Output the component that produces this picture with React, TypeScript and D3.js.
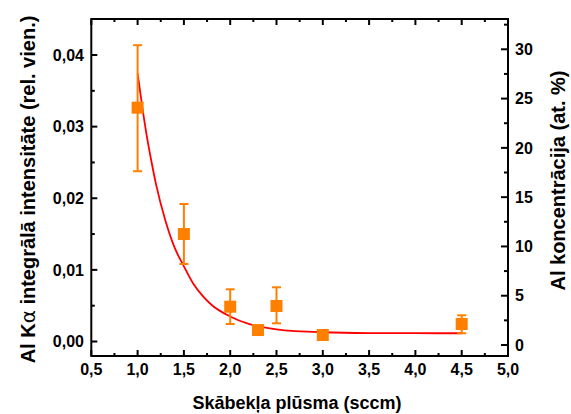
import React from "react";
import * as d3 from "d3";

// Measured points: oxygen flow (sccm), Al Kα integral intensity, error bars
const flow = [1.0, 1.5, 2.0, 2.3, 2.5, 3.0, 4.5];
const intensity = [0.03265, 0.01501, 0.00486, 0.0016, 0.00496, 0.00091, 0.00244];
const errLow = [0.02377, 0.01082, 0.00244, 0.0012, 0.00254, 0.0005, 0.00115];
const errHigh = [0.04137, 0.0192, 0.00729, 0.002, 0.00757, 0.0013, 0.00366];

// Fitted decay curve
const fitX = [1.0, 1.05, 1.1, 1.15, 1.2, 1.3, 1.4, 1.5, 1.6, 1.7, 1.8, 2.0, 2.2, 2.5, 3.0, 3.5, 4.0, 4.5];
const fitY = [0.03745, 0.0328, 0.02865, 0.0251, 0.0219, 0.0169, 0.0131, 0.0105, 0.0081, 0.0064, 0.0051, 0.0035, 0.00245, 0.0017, 0.00129, 0.00118, 0.00116, 0.00115];

const xTicks = [0.5, 1.0, 1.5, 2.0, 2.5, 3.0, 3.5, 4.0, 4.5, 5.0];
const yLeftTicks = [0, 0.01, 0.02, 0.03, 0.04];
const yRightTicks = [0, 5, 10, 15, 20, 25, 30];

const W = 571;
const H = 414;
const L = 91.3, R = 508, T = 19, B = 356;

const fmt = (v: number, d: number) => v.toFixed(d).replace(".", ",");

export default function App() {
  const x = d3.scaleLinear().domain([0.5, 5.0]).range([L, R]);
  const yL = d3.scaleLinear().domain([0, 0.04]).range([341.5, 55]);
  const yR = d3.scaleLinear().domain([0, 30]).range([345, 49.3]);

  const xMinor = d3.range(0.75, 5.0, 0.5);
  const yLMinor = d3.range(0.005, 0.045, 0.01);
  const yRMinor = d3.range(2.5, 33, 5);

  const line = d3
    .line<number>()
    .x((_, i) => x(fitX[i]))
    .y((d) => yL(d))
    .curve(d3.curveMonotoneX);

  const orange = "#FF8000";
  const font = "'Liberation Sans', Arial, sans-serif";
  const sq = 12;

  return (
    <svg
      width={W}
      height={H}
      style={{ position: "absolute", left: 0, top: 0, background: "#fff" }}
      fontFamily={font}
      fontWeight="bold"
    >
      <rect x={0} y={0} width={W} height={H} fill="#fff" />

      {/* fit curve */}
      <path d={line(fitY) || ""} fill="none" stroke="#FF0000" strokeWidth={1.8} />

      {/* error bars */}
      {flow.map((f, i) => (
        <g key={"e" + i} stroke={orange} strokeWidth={2}>
          <line x1={x(f)} x2={x(f)} y1={yL(errLow[i])} y2={yL(errHigh[i])} />
          <line x1={x(f) - 4.5} x2={x(f) + 4.5} y1={yL(errLow[i])} y2={yL(errLow[i])} />
          <line x1={x(f) - 4.5} x2={x(f) + 4.5} y1={yL(errHigh[i])} y2={yL(errHigh[i])} />
        </g>
      ))}
      {/* markers */}
      {flow.map((f, i) => (
        <rect
          key={"m" + i}
          x={x(f) - sq / 2}
          y={yL(intensity[i]) - sq / 2}
          width={sq}
          height={sq}
          fill={orange}
        />
      ))}

      {/* frame */}
      <rect x={L} y={T} width={R - L} height={B - T} fill="none" stroke="#000" strokeWidth={2} />

      {/* x ticks bottom & top */}
      {xTicks.map((t) => (
        <g key={"xt" + t} stroke="#000" strokeWidth={2}>
          <line x1={x(t)} x2={x(t)} y1={B} y2={B - 6} />
          <line x1={x(t)} x2={x(t)} y1={T} y2={T + 6} />
        </g>
      ))}
      {xMinor.map((t) => (
        <g key={"xm" + t} stroke="#000" strokeWidth={2}>
          <line x1={x(t)} x2={x(t)} y1={B} y2={B - 3} />
          <line x1={x(t)} x2={x(t)} y1={T} y2={T + 3} />
        </g>
      ))}
      {xTicks.map((t) => (
        <text key={"xl" + t} x={x(t)} y={375} textAnchor="middle" fontSize={16} fill="#000">
          {fmt(t, 1)}
        </text>
      ))}

      {/* left y ticks */}
      {yLeftTicks.map((t) => (
        <g key={"yl" + t}>
          <line x1={L} x2={L + 6} y1={yL(t)} y2={yL(t)} stroke="#000" strokeWidth={2} />
          <text x={84} y={yL(t)} dy="0.36em" textAnchor="end" fontSize={16} fill="#000">
            {fmt(t, 2)}
          </text>
        </g>
      ))}
      {yLMinor.map((t) => (
        <line key={"ylm" + t} x1={L} x2={L + 3.5} y1={yL(t)} y2={yL(t)} stroke="#000" strokeWidth={2} />
      ))}

      {/* right y ticks */}
      {yRightTicks.map((t) => (
        <g key={"yr" + t}>
          <line x1={R} x2={R - 7} y1={yR(t)} y2={yR(t)} stroke="#000" strokeWidth={2} />
          <text x={515} y={yR(t)} dy="0.36em" textAnchor="start" fontSize={16} fill="#000">
            {t}
          </text>
        </g>
      ))}
      {yRMinor.map((t) => (
        <line key={"yrm" + t} x1={R} x2={R - 4} y1={yR(t)} y2={yR(t)} stroke="#000" strokeWidth={2} />
      ))}

      {/* axis titles */}
      <text x={297} y={409} textAnchor="middle" fontSize={18} fill="#000">
        Skābekļa plūsma (sccm)
      </text>
      <text
        transform={`translate(35,189.5) rotate(-90)`}
        textAnchor="middle"
        fontSize={20}
        fill="#000"
      >
        Al K<tspan fontWeight="normal" fontFamily="'DejaVu Sans', sans-serif">α</tspan> integrālā intensitāte (rel. vien.)
      </text>
      <text
        transform={`translate(565,180.5) rotate(-90)`}
        textAnchor="middle"
        fontSize={20}
        fill="#000"
      >
        Al koncentrācija (at. %)
      </text>
    </svg>
  );
}
